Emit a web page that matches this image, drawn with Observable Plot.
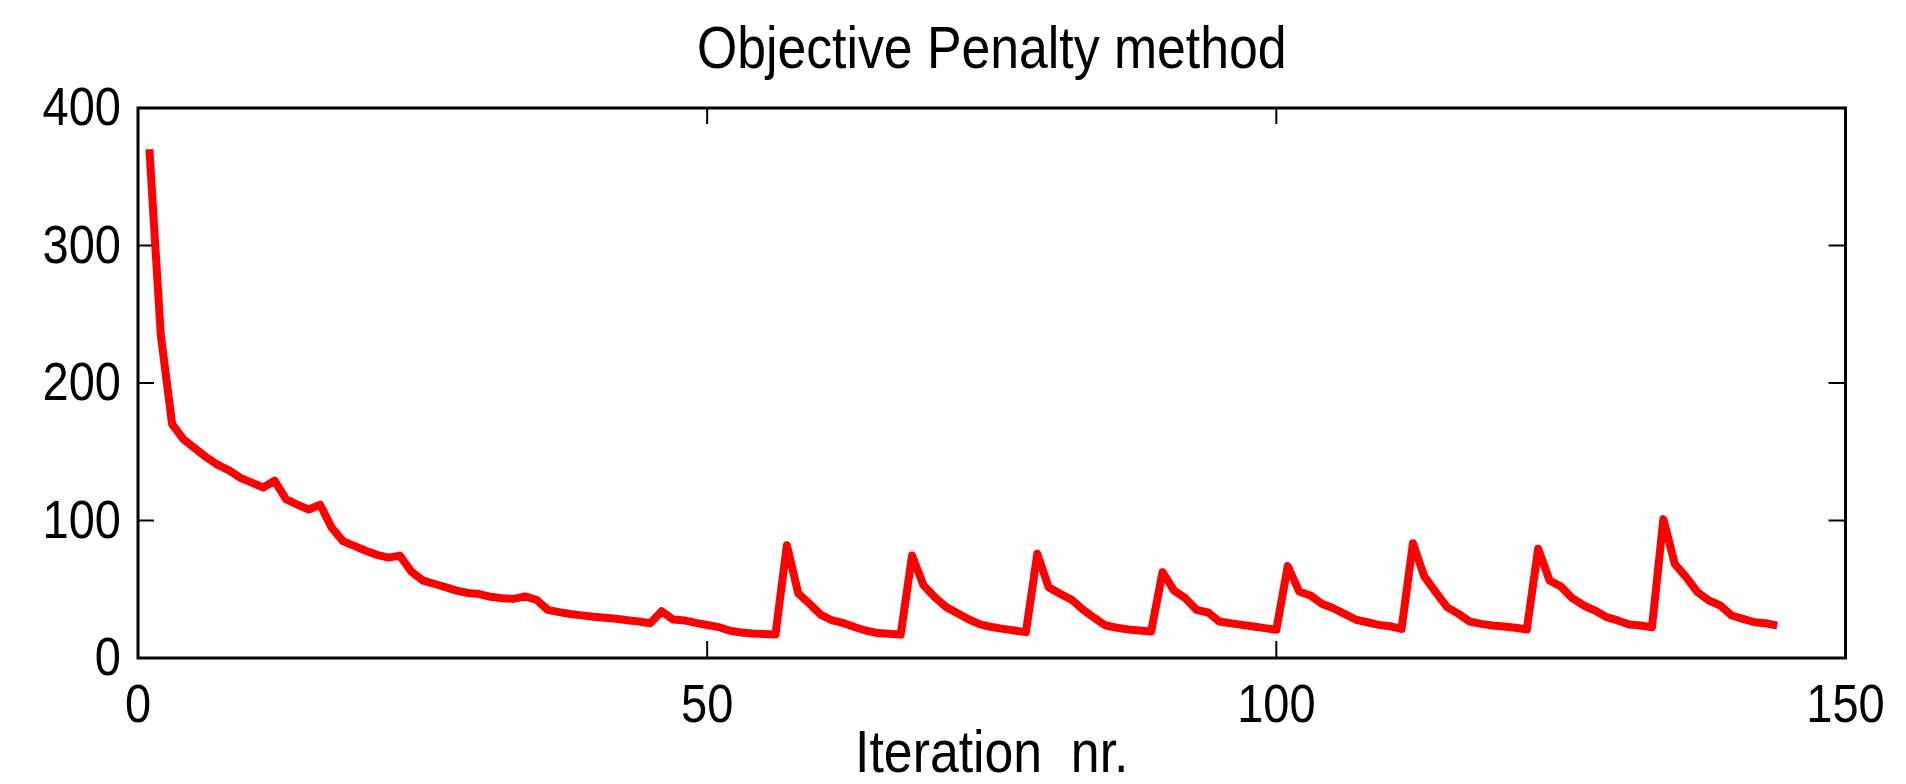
<!DOCTYPE html>
<html>
<head>
<meta charset="utf-8">
<script src="https://cdn.jsdelivr.net/npm/d3@7"></script>
<script src="https://cdn.jsdelivr.net/npm/@observablehq/plot@0.6"></script>
<style>
  html, body { margin: 0; padding: 0; background: #fff; }
  #chart svg { display: block; }
</style>
</head>
<body>
<div id="chart"></div>
<script>
const titleText = "Objective Penalty method";
const xLabelText = "Iteration  nr.";
const xTicks = [0, 50, 100, 150];
const yTicks = [0, 100, 200, 300, 400];
const objective = [
  370, 235, 170, 159, 152.5, 146, 140.5, 136.5, 131, 127.5,
  124, 129, 115.5, 111.5, 108, 111.5, 95, 85, 81.5, 78,
  75, 73, 74.5, 63, 56.5, 54, 51.5, 49, 47.3, 46.5,
  44.5, 43.4, 43, 44.8, 42.3, 35, 33.4, 32, 31, 30,
  29.3, 28.5, 27.5, 26.5, 25.3, 34, 28, 27.3, 25.5, 24,
  22.5, 19.8, 18.5, 17.8, 17.4, 17.1, 82, 47, 39.4, 31.4,
  27.3, 25.3, 22.4, 19.8, 18.1, 17.6, 17, 74.5, 53, 44.2,
  37, 32.5, 28, 24.5, 22.5, 21.2, 20, 18.8, 75.8, 51.5,
  46.7, 42.5, 35.3, 29.2, 23.6, 22, 20.7, 20, 19.3, 62.4,
  49.1, 43.5, 35, 33.1, 26.5, 25.3, 24.1, 22.9, 21.7, 20.5,
  66.8, 48.4, 45.5, 39.4, 36.2, 32.1, 27.8, 26, 24.1, 23.1,
  21.2, 83.5, 59.3, 47.9, 37, 32.1, 26.5, 24.8, 23.6, 22.9,
  22, 20.7, 79.4, 56.4, 52, 43.5, 38.2, 34.5, 29.7, 27.3,
  24.4, 23.6, 22.4, 101, 68.5, 58.8, 47.9, 41.8, 38.2, 30.9,
  28.5, 26, 25.3, 23.6
];
const iteration = objective.map((_, i) => i + 1);
const data = iteration.map((it, i) => ({iteration: it, value: objective[i]}));

const W = 1906, H = 784;
const mL = 137.5, mR = 61, mT = 107.5, mB = 126.5;
const frameH = H - mT - mB;
const frameW = W - mL - mR;
const tickLen = 16.5;
const font = "'Liberation Sans', Arial, Helvetica, sans-serif";
const tickFs = 54;
const labelFs = 59.5;
const squeeze = 0.87;

const chart = Plot.plot({
  width: W,
  height: H,
  marginLeft: mL,
  marginRight: mR,
  marginTop: mT,
  marginBottom: mB,
  style: {fontFamily: font, background: "#fff", color: "#000"},
  x: {domain: [0, 150]},
  y: {domain: [0, 400]},
  marks: [
    Plot.tickX(xTicks, {x: d => d, insetTop: frameH - tickLen, stroke: "#000", strokeWidth: 2}),
    Plot.tickX(xTicks, {x: d => d, insetBottom: frameH - tickLen, stroke: "#000", strokeWidth: 2}),
    Plot.tickY(yTicks, {y: d => d, insetRight: frameW - tickLen, stroke: "#000", strokeWidth: 2}),
    Plot.tickY(yTicks, {y: d => d, insetLeft: frameW - tickLen, stroke: "#000", strokeWidth: 2}),
    Plot.axisX(xTicks, {tickSize: 0, tickPadding: 26, fontSize: tickFs, label: null, tickFormat: d => String(d)}),
    Plot.axisY(yTicks, {tickSize: 0, tickPadding: 17, fontSize: tickFs, label: null, tickFormat: d => String(d)}),
    Plot.line(data, {x: "iteration", y: "value", stroke: "#ff0000", strokeWidth: 8, strokeLinecap: "butt", strokeLinejoin: "round"}),
    Plot.frame({stroke: "#000", strokeWidth: 3}),
    Plot.text([titleText], {text: d => d, frameAnchor: "top", dy: -40, lineAnchor: "bottom", fontSize: labelFs, fill: "#000"}),
    Plot.text([xLabelText], {text: d => d, frameAnchor: "bottom", dy: 113.5, lineAnchor: "bottom", fontSize: labelFs, fill: "#000"})
  ]
});
// Narrow the glyphs horizontally (reference uses a narrow Helvetica rendering)
d3.select(chart).selectAll("text").each(function () {
  const t = this.getAttribute("transform");
  if (t) this.setAttribute("transform", t + ` scale(${squeeze},1)`);
});
document.getElementById("chart").appendChild(chart);
</script>
</body>
</html>
